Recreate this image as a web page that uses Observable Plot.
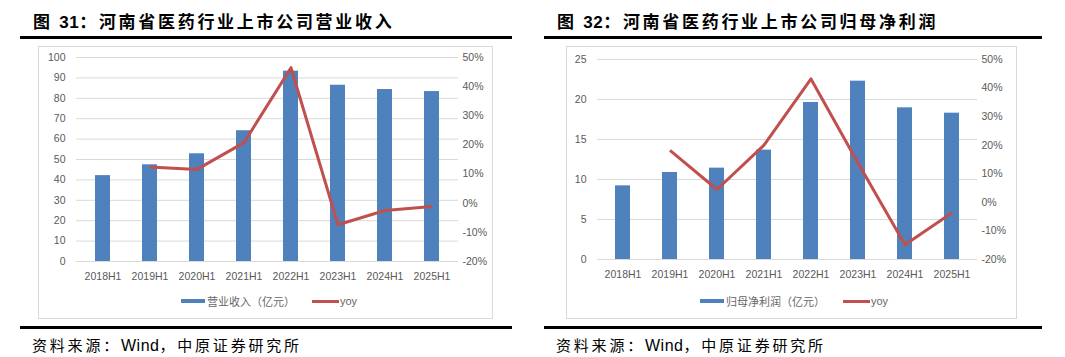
<!DOCTYPE html>
<html><head><meta charset="utf-8">
<script src="https://cdn.jsdelivr.net/npm/d3@7"></script>
<script src="https://cdn.jsdelivr.net/npm/@observablehq/plot@0.6"></script>
<style>
body{margin:0;width:1065px;height:357px;background:#fff;position:relative;overflow:hidden;font-family:"Liberation Sans",Arial,sans-serif;}
.abs{position:absolute;}
.title{font-family:"Noto Sans CJK SC",sans-serif;font-size:17px;line-height:18px;font-weight:700;letter-spacing:2.7px;color:#000;white-space:nowrap;}
.title .num{font-family:"Liberation Sans",Arial,sans-serif;font-weight:700;letter-spacing:0.5px;}
.rule{background:#000;height:3px;}
.box{border:1px solid #d9d9d9;box-sizing:border-box;}
.source{font-family:"Noto Sans CJK SC",sans-serif;font-size:15px;line-height:16px;letter-spacing:2.8px;color:#000;white-space:nowrap;}
.source .lat{font-family:"Liberation Sans",Arial,sans-serif;font-size:16px;letter-spacing:0.5px;}
.lg{font-family:"Noto Sans CJK SC",sans-serif;font-size:11px;line-height:12px;color:#666;white-space:nowrap;}
.lg.lat{font-family:"Liberation Sans",Arial,sans-serif;}
.sw{position:absolute;}
svg{overflow:visible;}
</style>
</head><body>
<script>
// ---- data ----
const periods = ["2018H1","2019H1","2020H1","2021H1","2022H1","2023H1","2024H1","2025H1"];
const revenue = [42.1, 47.4, 52.8, 64.1, 93.3, 86.4, 84.3, 83.3];          // 营业收入（亿元）
const revenueYoy = [null, 12.4, 11.6, 20.8, 46.5, -7.4, -2.5, -1.1];      // yoy %
const profit = [9.21, 10.88, 11.42, 13.67, 19.63, 22.29, 18.96, 18.29];   // 归母净利润（亿元）
const profitYoy = [null, 18.2, 4.5, 20.0, 43.2, 13.8, -14.8, -3.6];       // yoy %
const revenueTicks = [0,10,20,30,40,50,60,70,80,90,100];
const profitTicks = [0,5,10,15,20,25];
const pctTicks = [-20,-10,0,10,20,30,40,50];

const BLUE = "#4F81BD", RED = "#C0504D", GRAY = "#595959", GRID = "#d9d9d9";

function el(cls, style, html) {
  const d = document.createElement("div");
  d.className = "abs " + cls;
  Object.assign(d.style, style);
  if (html != null) d.innerHTML = html;
  document.body.appendChild(d);
  return d;
}

function panel(o) {
  const common = {
    width: o.width, height: o.height,
    marginLeft: o.mL, marginRight: o.mR, marginTop: o.mT, marginBottom: o.mB,
    x: {type: "band", domain: periods, paddingInner: 0.69, paddingOuter: 0.345},
    style: {fontFamily: "'Liberation Sans', Arial, sans-serif", fontSize: "10.5px", color: GRAY, background: "transparent", overflow: "visible"}
  };
  const table = periods.map((p, i) => ({p, v: o.values[i], r: o.yoy[i]}));
  const bars = Plot.plot({
    ...common,
    y: {domain: [0, o.yMax]},
    marks: [
      Plot.gridY(o.yTicks, {stroke: GRID, strokeOpacity: 1}),
      Plot.barY(table, {x: "p", y: "v", fill: BLUE}),
      Plot.axisY(o.yTicks, {tickSize: 0, tickPadding: 11, label: null, fill: GRAY}),
      Plot.axisX({tickSize: 0, tickPadding: 11, label: null, fill: GRAY})
    ]
  });
  const lines = Plot.plot({
    ...common,
    y: {domain: [-20, 50]},
    marks: [
      Plot.line(table.filter(d => d.r != null), {x: "p", y: "r", stroke: RED, strokeWidth: 3, strokeLinejoin: "round", strokeLinecap: "butt"}),
      Plot.axisY(pctTicks, {anchor: "right", tickSize: 0, tickPadding: 4, tickFormat: d => d + "%", label: null, fill: GRAY}),
      Plot.axisX({tickSize: 0, ticks: [], label: null})
    ]
  });
  for (const svg of [bars, lines]) {
    Object.assign(svg.style, {position: "absolute", left: o.left + "px", top: o.top + "px"});
    document.body.appendChild(svg);
  }
}

// ---- left panel ----
el("title", {left: "33px", top: "12px"}, '图 <span class="num">31</span>：河南省医药行业上市公司营业收入');
el("rule", {left: "20px", top: "36px", width: "492px"});
el("box", {left: "38px", top: "46px", width: "455px", height: "273px"});
panel({left: 38, top: 47, width: 455, height: 240, mL: 38, mR: 35, mT: 10, mB: 26,
  values: revenue, yoy: revenueYoy, yMax: 100, yTicks: revenueTicks});
el("sw", {left: "181px", top: "299px", width: "24px", height: "4px", background: BLUE});
el("lg", {left: "207px", top: "295px"}, "营业收入（亿元）");
el("sw", {left: "312px", top: "300px", width: "27px", height: "3px", background: RED});
el("lg lat", {left: "340px", top: "295px"}, "yoy");
el("rule", {left: "20px", top: "326px", width: "492px"});
el("source", {left: "32px", top: "337px"}, '资料来源：<span class="lat">Wind</span>，中原证券研究所');

// ---- right panel ----
el("title", {left: "557px", top: "12px"}, '图 <span class="num">32</span>：河南省医药行业上市公司归母净利润');
el("rule", {left: "544px", top: "36px", width: "498px"});
el("box", {left: "566px", top: "46px", width: "451px", height: "273px"});
panel({left: 566, top: 47, width: 451, height: 240, mL: 31, mR: 40, mT: 12, mB: 28,
  values: profit, yoy: profitYoy, yMax: 25, yTicks: profitTicks});
el("sw", {left: "700px", top: "299px", width: "24px", height: "4px", background: BLUE});
el("lg", {left: "726px", top: "295px"}, "归母净利润（亿元）");
el("sw", {left: "843px", top: "300px", width: "27px", height: "3px", background: RED});
el("lg lat", {left: "871px", top: "295px"}, "yoy");
el("rule", {left: "544px", top: "326px", width: "498px"});
el("source", {left: "556px", top: "337px"}, '资料来源：<span class="lat">Wind</span>，中原证券研究所');
</script>
</body></html>
